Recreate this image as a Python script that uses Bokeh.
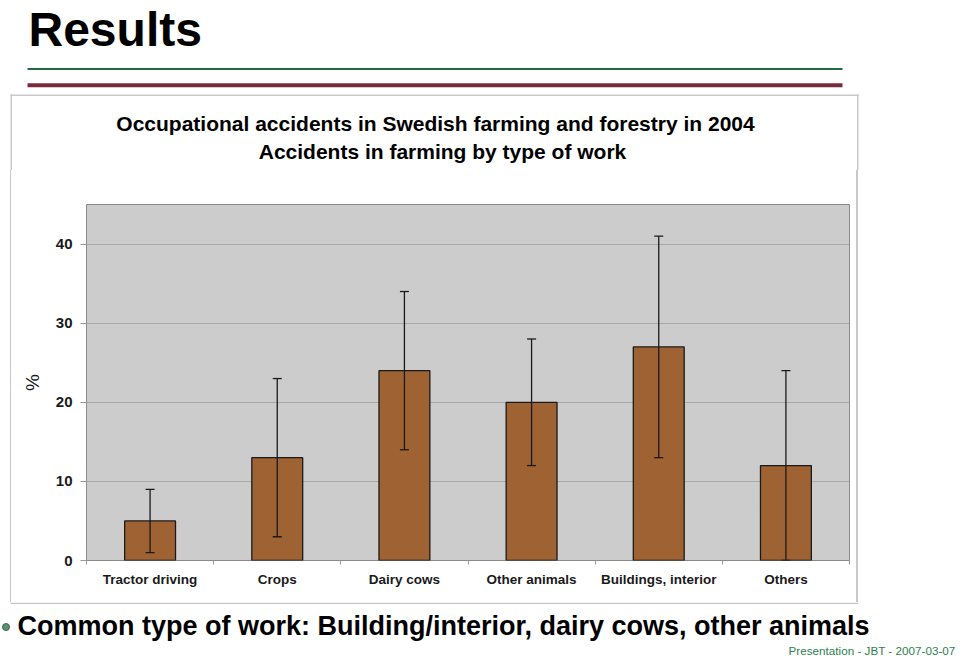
from bokeh.plotting import figure
from bokeh.layouts import column
from bokeh.models import (ColumnDataSource, Whisker, TeeHead, Label, BoxAnnotation,
                          FixedTicker, Range1d)
from bokeh.embed import file_html
from bokeh.resources import INLINE

# ---- data ----
categories = ["Tractor driving", "Crops", "Dairy cows", "Other animals",
              "Buildings, interior", "Others"]
values = [5, 13, 24, 20, 27, 12]
errors = [4, 10, 10, 8, 14, 12]
y_ticks = [0, 10, 20, 30, 40]

header_title = "Results"
chart_title_1 = "Occupational accidents in Swedish farming and forestry in 2004"
chart_title_2 = "Accidents in farming by type of work"
y_label = "%"
bullet_text = "Common type of work: Building/interior, dairy cows, other animals"
footer_text = "Presentation - JBT - 2007-03-07"

FONT = "Liberation Sans"
BOX = "#c8c8c8"
BASELINE_FIX = 0.39   # Label text sits this many em below the given y; compensate

xpos = [i + 0.5 for i in range(len(categories))]
src = ColumnDataSource(dict(
    x=xpos, top=values,
    upper=[v + e for v, e in zip(values, errors)],
    lower=[v - e for v, e in zip(values, errors)],
))


def no_frame_align(f):
    if "frame_align" in type(f).properties():
        f.frame_align = False


def canvas_fig(x0, x1, y0, y1):
    """A figure whose frame fills the whole canvas; data units = page pixels."""
    f = figure(width=x1 - x0, height=y1 - y0, output_backend="svg", toolbar_location=None,
               x_range=Range1d(x0, x1), y_range=Range1d(y1, y0),
               x_axis_location=None, y_axis_location=None,
               min_border=0, min_border_left=0, min_border_right=0,
               min_border_top=0, min_border_bottom=0)
    f.grid.visible = False
    f.outline_line_color = None
    f.background_fill_color = "white"
    f.border_fill_color = "white"
    no_frame_align(f)
    return f


def lab(f, text, x, baseline_y, size, bold=True, color="black", align="left"):
    y = baseline_y - BASELINE_FIX * size
    f.add_layout(Label(x=x, y=y, text=text, text_font=FONT, text_font_size=f"{size}px",
                       text_font_style="bold" if bold else "normal",
                       text_color=color, text_align=align, text_baseline="alphabetic"))


def rule(f, x_left, x_right, y_top, y_bottom, color):
    f.quad(left=[x_left], right=[x_right], top=[y_top], bottom=[y_bottom],
           fill_color=color, line_color=None)


# ---------- header (page y 0..170) ----------
top = canvas_fig(0, 960, 0, 170)
lab(top, header_title, 28, 47.5, 48)
top.add_layout(BoxAnnotation(left=27, right=842, top=67.5, bottom=69.5,
                             fill_color="#1f6e43", fill_alpha=1, line_color=None))
top.add_layout(BoxAnnotation(left=27, right=842, top=82.7, bottom=86.7,
                             fill_color="#7a2c3e", fill_alpha=1, line_color=None))
rule(top, 10, 858, 94, 95.5, BOX)          # chart box: top edge
rule(top, 10, 11.5, 94, 170, BOX)          # left edge (upper part)
rule(top, 856.5, 858, 94, 170, BOX)        # right edge (upper part)
lab(top, chart_title_1, 435, 131, 21, align="center")
lab(top, chart_title_2, 442, 159, 21, align="center")

# ---------- middle (page y 170..602): the chart ----------
p = figure(width=960, height=432, output_backend="svg", toolbar_location=None,
           x_range=Range1d(0, len(categories)), y_range=Range1d(0, 45),
           min_border_left=86, min_border_right=111,
           min_border_top=34, min_border_bottom=42)
no_frame_align(p)
p.background_fill_color = "#cccccc"
p.border_fill_color = None
# the chart box's side edges, painted behind the transparent border area
p.styles = {
    "background-color": "white",
    "background-image": (
        "linear-gradient(to right, transparent 10px, #c8c8c8 10px, #c8c8c8 11.5px, "
        "transparent 11.5px, transparent 856.5px, #c8c8c8 856.5px, #c8c8c8 858px, "
        "transparent 858px)"
    ),
}
p.outline_line_color = "#8a8a8a"
p.outline_line_width = 1

p.xgrid.grid_line_color = None
p.ygrid.ticker = FixedTicker(ticks=y_ticks)
p.ygrid.grid_line_color = "#a9a9a9"
p.ygrid.grid_line_width = 1

ya = p.yaxis[0]
ya.ticker = FixedTicker(ticks=y_ticks)
ya.axis_line_color = None
ya.major_tick_line_color = "#999999"
ya.major_tick_out = 6
ya.major_tick_in = 0
ya.minor_tick_line_color = None
ya.major_label_standoff = 8
ya.major_label_text_font = FONT
ya.major_label_text_font_size = "15px"
ya.major_label_text_font_style = "bold"
ya.major_label_text_color = "#1a1a1a"
ya.axis_label = y_label
ya.axis_label_standoff = 10
ya.axis_label_text_font = FONT
ya.axis_label_text_font_size = "19px"
ya.axis_label_text_font_style = "normal"
ya.axis_label_text_color = "#1a1a1a"

xa = p.xaxis[0]
xa.ticker = FixedTicker(ticks=xpos, minor_ticks=list(range(len(categories) + 1)))
xa.major_label_overrides = {x: c for x, c in zip(xpos, categories)}
xa.axis_line_color = None
xa.major_tick_line_color = None
xa.major_tick_out = 0
xa.major_tick_in = 0
xa.minor_tick_line_color = "#999999"
xa.minor_tick_out = 4
xa.minor_tick_in = 0
xa.major_label_standoff = 7
xa.major_label_text_font = FONT
xa.major_label_text_font_size = "13.5px"
xa.major_label_text_font_style = "bold"
xa.major_label_text_color = "#1a1a1a"

p.vbar(x="x", top="top", width=0.4, source=src,
       fill_color="#9e6233", line_color="#1a1a1a", line_width=1.3)
p.add_layout(Whisker(source=src, base="x", upper="upper", lower="lower",
                     level="annotation", line_color="#1a1a1a", line_width=1.3,
                     upper_head=TeeHead(size=9, line_color="#1a1a1a", line_width=1.3),
                     lower_head=TeeHead(size=9, line_color="#1a1a1a", line_width=1.3)))

# ---------- footer (page y 602..660) ----------
bot = canvas_fig(0, 960, 602, 660)
rule(bot, 10, 858, 602, 603.5, BOX)        # chart box: bottom edge
bot.scatter(x=[5.5], y=[626.5], size=7, marker="circle",
            fill_color="#5d9170", line_color="#3b6a4c", line_width=1)
lab(bot, bullet_text, 17, 636, 27)
lab(bot, footer_text, 955, 655, 11.7, bold=False, color="#2f7f4f", align="right")

layout = column(top, p, bot, spacing=0)
open("out.html", "w").write(file_html(layout, INLINE))
